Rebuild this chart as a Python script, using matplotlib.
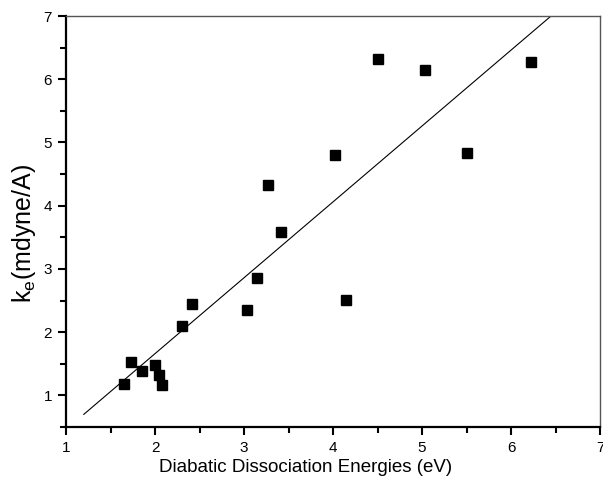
import matplotlib
matplotlib.use("Agg")
import matplotlib.pyplot as plt
import numpy as np
from matplotlib.ticker import MultipleLocator

plt.rcParams['font.family'] = ['Liberation Sans', 'DejaVu Sans']

energy = [1.65, 1.73, 1.85, 2.00, 2.04, 2.08, 2.30, 2.42, 3.03, 3.15,
          3.27, 3.42, 4.02, 4.15, 4.50, 5.03, 5.51, 6.23]
ke = [1.18, 1.53, 1.38, 1.48, 1.33, 1.17, 2.10, 2.44, 2.35, 2.85,
      4.32, 3.59, 4.80, 2.51, 6.32, 6.14, 4.84, 6.27]
fit_x = [1.2, 6.45]
fit_slope = 1.2
fit_intercept = -0.74

fig = plt.figure(figsize=(6.03, 4.91), dpi=100)
ax = fig.add_axes([66/603, 1 - 427/491, (600-66)/603, (427-16)/491])

fx = np.array(fit_x)
ax.plot(fx, fit_slope*fx + fit_intercept, color='black', lw=0.8)
ax.plot(energy, ke, 's', color='black', ms=7, mec='black')

ax.set_xlim(1, 7)
ax.set_ylim(0.5, 7)
ax.xaxis.set_major_locator(MultipleLocator(1))
ax.xaxis.set_minor_locator(MultipleLocator(0.5))
ax.set_yticks([1, 2, 3, 4, 5, 6, 7])
ax.set_yticks(np.arange(0.5, 7.01, 0.5), minor=True)

ax.tick_params(which='both', direction='out', top=False, right=False,
               width=1.5, labelsize=11, colors='black')
ax.tick_params(which='major', length=6, pad=4)
ax.tick_params(which='minor', length=4)

for s in ['left', 'bottom']:
    ax.spines[s].set_linewidth(1.6)
    ax.spines[s].set_color('black')
for s in ['top', 'right']:
    ax.spines[s].set_linewidth(1.0)
    ax.spines[s].set_color('#555555')

ax.set_xlabel('Diabatic Dissociation Energies (eV)', fontsize=13.5)
ax.xaxis.set_label_coords((306-66)/534, -(459-427)/411)
ax.set_ylabel(r'k$_\mathregular{e}$(mdyne/A)', fontsize=18)
ax.yaxis.set_label_coords((38-66)/534, 0.47)

fig.savefig('out.png', dpi=100)
